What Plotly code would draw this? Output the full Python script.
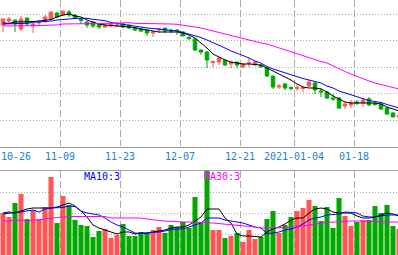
import plotly.graph_objects as go
import pandas as pd

# ---------------- data ----------------
dates = [d.strftime("%Y-%m-%d") for d in pd.bdate_range("2020-10-26", "2021-01-27")
         if d.strftime("%m-%d") != "01-01"]

open_ = [27.5, 27.9, 28.0, 27.1, 28.2, 27.4, 27.7, 27.8, 28.1, 28.7,
         28.5, 28.8, 28.5, 28.1, 27.8, 27.8, 27.6, 27.3, 27.4, 27.4,
         27.6, 27.5, 27.2, 27.1, 27.0, 26.7, 27.0, 27.2, 27.0, 27.0,
         26.8, 26.25, 26.1, 25.0, 24.8, 23.75, 23.8, 24.0, 23.6, 23.8,
         23.3, 23.65, 23.5, 23.5, 23.2, 22.4, 21.3, 21.6, 21.25, 21.15,
         21.15, 21.4, 21.7, 20.9, 20.8, 20.2, 20.2, 19.4, 19.5, 19.8,
         19.7, 20.1, 19.7, 19.6, 19.2, 18.7, 18.3]
close = [28.1, 28.1, 27.6, 28.1, 27.6, 27.6, 27.8, 28.3, 28.8, 28.3,
         28.9, 28.5, 28.2, 27.95, 27.5, 27.4, 27.3, 27.5, 27.6, 27.5,
         27.3, 27.2, 27.0, 26.9, 26.7, 26.8, 27.1, 26.9, 26.9, 26.9,
         26.4, 26.15, 25.0, 24.8, 24.0, 23.85, 24.2, 23.5, 23.8, 23.5,
         23.6, 23.7, 23.8, 23.3, 22.4, 21.3, 21.4, 21.2, 21.15, 21.25,
         21.25, 21.8, 21.0, 20.8, 20.2, 20.1, 19.2, 19.6, 19.7, 19.7,
         20.0, 19.5, 19.55, 19.1, 18.6, 18.3, 18.45]
high = [28.1, 28.3, 28.0, 28.4, 28.2, 27.7, 28.0, 28.5, 28.8, 28.8,
        28.9, 29.0, 28.6, 28.2, 27.9, 27.8, 27.6, 27.6, 27.7, 27.7,
        27.7, 27.5, 27.3, 27.2, 27.0, 26.9, 27.2, 27.2, 27.1, 27.1,
        26.9, 26.4, 26.2, 25.1, 24.9, 23.85, 24.3, 24.0, 23.8, 23.8,
        23.6, 24.2, 23.9, 23.6, 23.4, 22.4, 21.6, 21.7, 21.35, 21.5,
        21.4, 22.0, 21.8, 21.2, 20.9, 20.6, 20.3, 19.8, 20.0, 20.0,
        20.2, 20.3, 19.8, 19.7, 19.3, 18.8, 18.5]
low = [26.8, 27.7, 26.8, 26.9, 27.4, 26.7, 27.4, 27.8, 28.1, 28.3,
       28.5, 28.3, 28.1, 27.6, 27.2, 27.2, 27.1, 27.2, 27.3, 27.3,
       27.2, 27.1, 26.9, 26.8, 26.4, 26.3, 26.7, 26.7, 26.7, 26.5,
       26.4, 26.0, 24.9, 24.5, 23.2, 23.3, 23.5, 23.4, 23.2, 23.2,
       23.2, 23.3, 23.4, 23.3, 22.3, 21.1, 21.1, 21.0, 20.95, 20.9,
       20.8, 21.3, 20.6, 20.3, 20.1, 19.9, 19.1, 19.1, 19.2, 19.5,
       19.3, 19.4, 19.4, 19.0, 18.5, 18.3, 18.2]

ma5 = [27.7, 27.67, 27.8, 27.8, 27.8, 27.85, 27.9, 28.0, 28.05, 28.3,
       28.5, 28.6, 28.4, 28.3, 28.0, 27.8, 27.6, 27.5, 27.45, 27.4,
       27.4, 27.35, 27.25, 27.1, 27.0, 26.85, 26.8, 26.8, 26.8, 26.8,
       26.7, 26.5, 26.2, 25.7, 25.2, 24.6, 24.3, 24.0, 23.8, 23.7,
       23.6, 23.6, 23.55, 23.5, 23.2, 22.9, 22.6, 22.3, 22.0, 21.6,
       21.3, 21.2, 21.2, 21.1, 20.8, 20.4, 20.1, 19.8, 19.7, 19.7,
       19.7, 19.7, 19.7, 19.6, 19.3, 19.1, 18.9]
ma10 = [27.6, 27.6, 27.67, 27.67, 27.67, 27.77, 27.8, 27.85, 27.9, 28.0,
        28.07, 28.1, 28.15, 28.17, 28.17, 28.07, 28.0, 27.93, 27.75, 27.65,
        27.55, 27.45, 27.35, 27.25, 27.2, 27.15, 27.1, 27.05, 27.0, 26.9,
        26.75, 26.6, 26.4, 26.25, 26.0, 25.75, 25.5, 25.2, 24.9, 24.7,
        24.45, 24.2, 23.9, 23.7, 23.35, 23.1, 22.9, 22.7, 22.5, 22.3,
        22.15, 22.0, 21.85, 21.7, 21.4, 21.2, 20.9, 20.7, 20.5, 20.3,
        20.1, 19.95, 19.85, 19.75, 19.55, 19.35, 19.2]
ma30 = [27.4, 27.4, 27.4, 27.4, 27.4, 27.4, 27.4, 27.45, 27.5, 27.5,
        27.6, 27.6, 27.6, 27.6, 27.65, 27.67, 27.67, 27.67, 27.67, 27.7,
        27.73, 27.73, 27.67, 27.67, 27.67, 27.67, 27.67, 27.6, 27.6, 27.57,
        27.5, 27.4, 27.3, 27.2, 27.05, 26.9, 26.75, 26.6, 26.45, 26.3,
        26.1, 25.95, 25.8, 25.7, 25.6, 25.4, 25.2, 25.05, 24.85, 24.6,
        24.45, 24.25, 24.05, 23.85, 23.7, 23.4, 23.15, 22.85, 22.6, 22.35,
        22.1, 21.9, 21.7, 21.55, 21.4, 21.25, 21.1]

volume = [84, 76, 104, 122, 72, 90, 72, 96, 156, 64,
          118, 100, 70, 60, 58, 36, 48, 52, 34, 40,
          62, 38, 38, 46, 44, 50, 56, 44, 60, 56,
          66, 54, 116, 64, 178, 50, 50, 34, 38, 44,
          26, 50, 32, 36, 72, 88, 44, 60, 76, 88,
          94, 110, 98, 68, 96, 54, 114, 78, 58, 66,
          70, 70, 98, 84, 100, 58, 52]
vma5 = [84, 86, 84, 88, 92, 94, 94, 94, 94, 96,
        100, 104, 98, 88, 76, 60, 54, 50, 46, 42,
        46, 46, 42, 44, 44, 46, 48, 50, 54, 56,
        56, 60, 68, 76, 92, 92, 92, 74, 64, 42,
        38, 38, 37, 36, 46, 52, 56, 62, 70, 74,
        74, 84, 92, 94, 92, 86, 84, 84, 84, 78,
        74, 74, 76, 80, 84, 82, 78]
vma10 = [82, 84, 85, 86, 88, 90, 86, 92, 94, 94,
         95, 98, 97, 88, 84, 82, 80, 74, 66, 60,
         56, 50, 44, 43, 44, 44, 46, 48, 51, 52,
         52, 56, 60, 64, 74, 74, 74, 70, 68, 66,
         64, 60, 56, 54, 43, 44, 46, 50, 52, 56,
         62, 70, 74, 76, 80, 81, 82, 86, 85, 84,
         78, 76, 76, 78, 80, 80, 80]
vma30 = [68, 68, 69, 70, 67, 70, 70, 72, 74, 75,
         76, 77, 77, 77, 77, 77, 77, 77, 74, 74,
         74, 75, 75, 74, 72, 70, 69, 68, 67, 66,
         66, 66, 66, 66, 65, 64, 63, 62, 60, 59,
         58, 57, 56, 54, 54, 54, 54, 54, 55, 56,
         58, 60, 63, 64, 65, 66, 67, 68, 68, 68,
         68, 68, 67, 66, 66, 66, 66]

tick_dates = ["2020-10-26", "2020-11-09", "2020-11-23", "2020-12-07",
              "2020-12-21", "2021-01-04", "2021-01-18"]
tick_text = ["10-26", "11-09", "11-23", "12-07", "12-21", "2021-01-04", "01-18"]

# ---------------- style ----------------
W, H = 398, 255
UP, DN = "#ff5555", "#00a800"
GRID = "#aaaaaa"
LABEL = "#1a80d4"
FONT = "DejaVu Sans Mono"
PX = 6.0  # pixels per trading day

n = len(dates)
x = [i + 0.5 for i in range(n)]
tickpos = [dates.index(d) for d in tick_dates]
vol_colors = [UP if c >= o else DN for o, c in zip(open_, close)]

fig = go.Figure()
fig.add_trace(go.Candlestick(
    x=x, open=open_, high=high, low=low, close=close,
    increasing=dict(line=dict(color=UP, width=1), fillcolor=UP),
    decreasing=dict(line=dict(color=DN, width=1), fillcolor=DN),
    whiskerwidth=0, hoverinfo="skip", xaxis="x", yaxis="y"))
for arr, col in [(ma5, "#000000"), (ma10, "#0000ff"), (ma30, "#ff00ff")]:
    fig.add_trace(go.Scatter(x=x, y=arr, mode="lines",
                             line=dict(color=col, width=1), xaxis="x", yaxis="y"))

fig.add_trace(go.Bar(x=x, y=volume, width=0.84, marker_color=vol_colors,
                     marker_line_width=0, xaxis="x2", yaxis="y2"))
for arr, col in [(vma5, "#000000"), (vma10, "#0000ff"), (vma30, "#ff00ff")]:
    fig.add_trace(go.Scatter(x=x, y=arr, mode="lines",
                             line=dict(color=col, width=1), xaxis="x2", yaxis="y2"))

xr = [0, W / PX]
price_bottom_px = 146.5
vol_top_px = 171
fig.update_layout(
    width=W, height=H, margin=dict(l=0, r=0, t=0, b=0),
    paper_bgcolor="white", plot_bgcolor="white", showlegend=False,
    boxgap=0.17,
    xaxis=dict(domain=[0, 1], range=xr, anchor="y",
               tickmode="array", tickvals=tickpos,
               ticktext=[""] + tick_text[1:],
               tickfont=dict(family=FONT, size=10, color=LABEL),
               ticks="", showgrid=True, gridcolor=GRID, gridwidth=1,
               griddash="7px,3px", showline=True, linecolor="#a0a0a0",
               linewidth=1, zeroline=False, rangeslider=dict(visible=False)),
    yaxis=dict(domain=[(H - price_bottom_px) / H, 1], range=[15.35, 30],
               tickmode="array", tickvals=[18.0, 20.65, 23.3, 25.95, 28.6],
               showticklabels=False, ticks="", showgrid=True,
               gridcolor=GRID, griddash="1px,2px", zeroline=False),
    xaxis2=dict(domain=[0, 1], range=xr, anchor="y2", side="top",
                tickmode="array", tickvals=tickpos, showticklabels=False,
                ticks="", showgrid=True, gridcolor=GRID, griddash="7px,3px",
                showline=True, linecolor="#a0a0a0", linewidth=1, zeroline=False),
    yaxis2=dict(domain=[0, (H - vol_top_px) / H], range=[0, 168],
                tickmode="array", tickvals=[42, 84, 126],
                showticklabels=False, ticks="", showgrid=True,
                gridcolor=GRID, griddash="1px,2px", zeroline=False),
)

fig.add_annotation(x=0, y=(H - 156.5) / H, xref="x", yref="paper",
                   text=tick_text[0], showarrow=False, xanchor="left",
                   yanchor="middle", borderpad=0,
                   font=dict(family=FONT, size=10, color=LABEL))
fig.add_annotation(x=83 / PX, y=(H - 176) / H, xref="x2", yref="paper",
                   text="MA10:3", showarrow=False, xanchor="left",
                   yanchor="middle", borderpad=0,
                   font=dict(family=FONT, size=10, color="#0000ff"))
fig.add_annotation(x=203 / PX, y=(H - 176) / H, xref="x2", yref="paper",
                   text="MA30:3", showarrow=False, xanchor="left",
                   yanchor="middle", borderpad=0,
                   font=dict(family=FONT, size=10, color="#ff00ff"))

fig.write_html("out.html")
